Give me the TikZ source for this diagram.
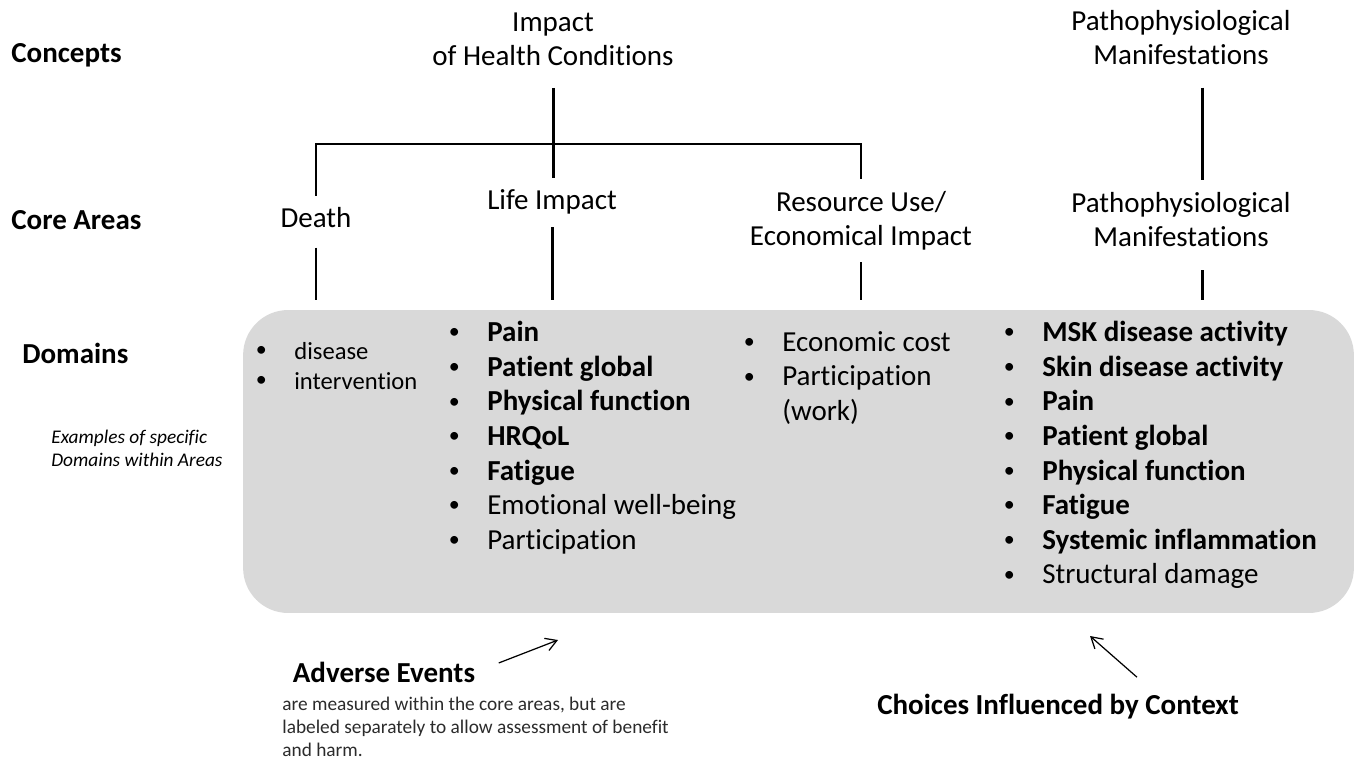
\documentclass[tikz,border=0pt]{standalone}
\usepackage{fontspec}
\setmainfont{Carlito}[Ligatures=NoCommon]
\usetikzlibrary{positioning, arrows.meta}
\definecolor{BoxGray}{HTML}{D9D9D9}
\definecolor{NoteGray}{HTML}{2B2B2B}
\newcommand{\bul}{\makebox[0.8cm][l]{\hspace{0.03cm}\raisebox{0.1em}{\fontsize{12.5}{12.5}\selectfont\textbullet}}}
\newcommand{\nobul}{\makebox[0.8cm][l]{}}

\begin{document}
\begin{tikzpicture}[x=0.02cm, y=-0.02cm,
        heading/.style={font=\bfseries\fontsize{16.5}{19.4}\selectfont, inner sep=0pt, anchor=base west},
        concept/.style={font=\fontsize{16.5}{19.4}\selectfont, align=center, inner xsep=0pt, inner ysep=0.44cm},
        area/.style={font=\fontsize{16.5}{19.4}\selectfont, align=center, inner xsep=0pt, inner ysep=0.24cm},
        domainbox/.style={rectangle, rounded corners=0.9cm, fill=BoxGray, inner sep=0pt, minimum width=22.22cm, minimum height=6.06cm},
        itemlist/.style={font=\fontsize{16.5}{19.7}\selectfont, align=left, inner sep=0pt, anchor=north west},
        note/.style={font=\fontsize{11}{13.1}\selectfont, align=left, inner sep=0pt, text=NoteGray},
        thickline/.style={line width=1.7pt},
        thinline/.style={line width=0.85pt},
        pointer/.style={-{Straight Barb[length=2.2mm, width=2.6mm]}, line width=0.7pt}
    ]
    \useasboundingbox (0,0) rectangle (1362,760);

    % Row labels
    \node[heading] (concepts) at (11,63) {Concepts};
    \node[heading] (coreareas) at (11,230) {Core Areas};
    \node[heading] (domainslabel) at (22,363) {Domains};
    \node[note, font=\itshape\fontsize{11}{13.1}\selectfont, anchor=north west, text=black] (examples) at (51,430) {Examples of specific\\Domains within Areas};

    % Concepts
    \node[concept] (impact) at (553,39) {Impact\\of Health Conditions};
    \node[concept] (pathtop) at (1181,38) {Pathophysiological\\Manifestations};

    % Core areas
    \node[area, anchor=base] (death) at (316,228) {Death};
    \node[area, anchor=base] (life) at (552,210) {Life Impact};
    \node[area] (resource) at (861,220.5) {Resource Use/\\Economical Impact};
    \node[area] (patho) at (1181,219.5) {Pathophysiological\\Manifestations};

    % Domains box
    \node[domainbox] (domains) at (798.5,461.5) {};

    % Connectors
    \coordinate (bar) at (553,144);
    \coordinate (pline) at (1202,0);
    \draw[thickline] (impact.south) -- (impact.south |- life.north);
    \draw[thinline] (death.north) -- (death.north |- bar) -- (resource.north |- bar) -- (resource.north);
    \draw[thickline] (pline |- pathtop.south) -- (pline |- patho.north);
    \draw[thinline, shorten <=0.14cm, shorten >=0.2cm] (death.south) -- (death.south |- domains.north);
    \draw[thickline, shorten >=0.2cm] (life.south) -- (life.south |- domains.north);
    \draw[thinline, shorten >=0.2cm] (resource.south) -- (resource.south |- domains.north);
    \draw[thickline, shorten <=0.22cm, shorten >=0.2cm] (pline |- patho.south) -- (pline |- domains.north);

    % Domain lists
    \node[itemlist, font=\fontsize{14}{17}\selectfont] (deathlist) at (254,342) {\bul disease\\\bul intervention};
    \node[itemlist] (lifelist) at (447,321) {\bul\textbf{Pain}\\\bul\textbf{Patient global}\\\bul\textbf{Physical function}\\\bul\textbf{HRQoL}\\\bul\textbf{Fatigue}\\\bul Emotional well-being\\\bul Participation};
    \node[itemlist] (resourcelist) at (742,331) {\bul Economic cost\\\bul Participation\\\nobul(work)};
    \node[itemlist] (patholist) at (1002,321) {\bul\textbf{MSK disease activity}\\\bul\textbf{Skin disease activity}\\\bul\textbf{Pain}\\\bul\textbf{Patient global}\\\bul\textbf{Physical function}\\\bul\textbf{Fatigue}\\\bul\textbf{Systemic inflammation}\\\bul Structural damage};

    % Notes below
    \node[heading, anchor=center] (adverse) at (384,672) {Adverse Events};
    \node[note, anchor=north west] (adversenote) at (282,697) {are measured within the core areas, but are\\labeled separately to allow assessment of benefit\\and harm.};
    \node[heading, anchor=center] (choices) at (1058,707) {Choices Influenced by Context};
    \coordinate (adversetip) at (558,640);
    \coordinate (choicestip) at (1090,636);
    \draw[pointer, shorten <=0.5cm] (adverse.east) -- (adversetip);
    \draw[pointer] ([xshift=1.58cm, yshift=0.34cm]choices.north) -- (choicestip);
\end{tikzpicture}
\end{document}
